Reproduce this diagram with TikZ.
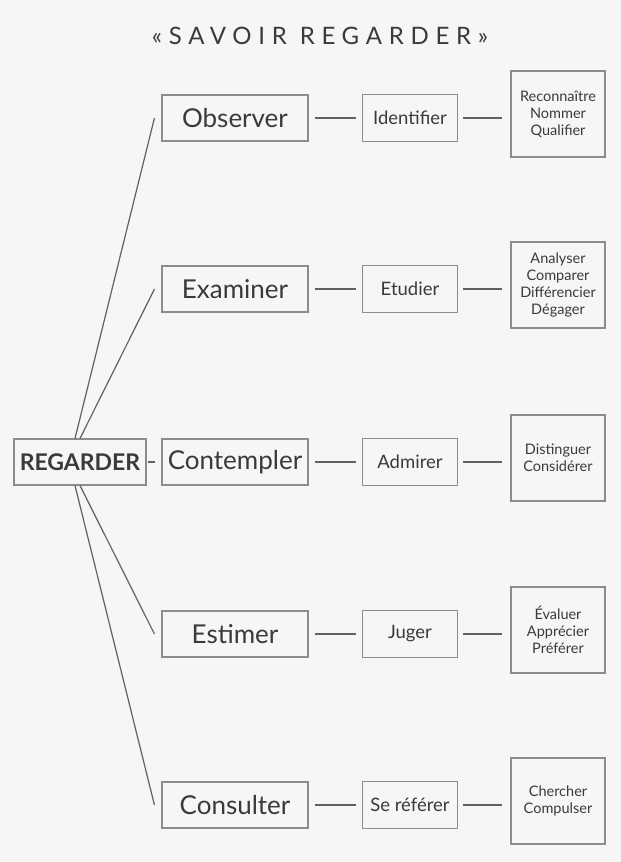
\documentclass[tikz,border=0pt]{standalone}
\usepackage{fontspec}
\setmainfont{Lato}
\definecolor{ink}{HTML}{3A3A3A}
\definecolor{rule}{HTML}{8C8C8C}
\definecolor{paper}{HTML}{F6F6F6}
\tikzset{
  box/.style={draw=rule, line width=1.1pt, text=ink, inner sep=0pt, align=center},
  verbbox/.style={box, minimum width=146pt, minimum height=46pt, font=\fontsize{26}{30}\selectfont},
  actbox/.style={box, minimum width=95pt, minimum height=47pt, font=\fontsize{18.5}{22}\selectfont},
  listbox/.style={box, minimum width=94pt, minimum height=86pt, font=\fontsize{14.5}{17}\selectfont},
  link/.style={draw=ink!80, line width=1.2pt},
}
\begin{document}
\begin{tikzpicture}[x=1pt, y=-1pt]
    \fill[paper] (0,0) rectangle (621,862);
    \useasboundingbox (0,0) rectangle (621,862);

    \node (title) at (320,36)[text=ink, font=\fontsize{24}{28}\selectfont\addfontfeature{LetterSpace=28}]{«SAVOIR REGARDER»};

    \node (reg) at (80,462)[box, minimum width=132pt, minimum height=46pt, font=\fontsize{23}{26}\selectfont\bfseries]{REGARDER};

    \foreach \n/\y/\a/\b/\c in {obs/118/Observer/Identifier/{Reconnaître\\Nommer\\Qualifier},
        exa/289/Examiner/Etudier/{Analyser\\Comparer\\Différencier\\Dégager},
        con/462/Contempler/Admirer/{Distinguer\\Considérer},
        est/634/Estimer/Juger/{Évaluer\\Apprécier\\Préférer},
        cou/805/Consulter/Se référer/{Chercher\\Compulser}}{
        \node (\n1) at (235,\y)[verbbox]{\a};
        \node (\n2) at (410,\y)[actbox]{\b};
        \node (\n3) at (558,\y-4)[listbox]{\c};
        \draw[link, shorten <=6pt, shorten >=6pt] (\n1.east) -- (\n2.west);
        \draw[link, shorten <=5pt, shorten >=8pt] (\n2.east) -- (\n2.east -| \n3.west);
    }

    \draw[link] ([xshift=-5pt]reg.north) -- ([xshift=-7pt]obs1.west);
    \draw[link] (reg.north) -- ([xshift=-7pt]exa1.west);
    \draw[link, shorten <=1pt, shorten >=6pt] (reg.east) -- (con1.west);
    \draw[link] (reg.south) -- ([xshift=-7pt]est1.west);
    \draw[link] ([xshift=-5pt]reg.south) -- ([xshift=-7pt]cou1.west);
\end{tikzpicture}
\end{document}
